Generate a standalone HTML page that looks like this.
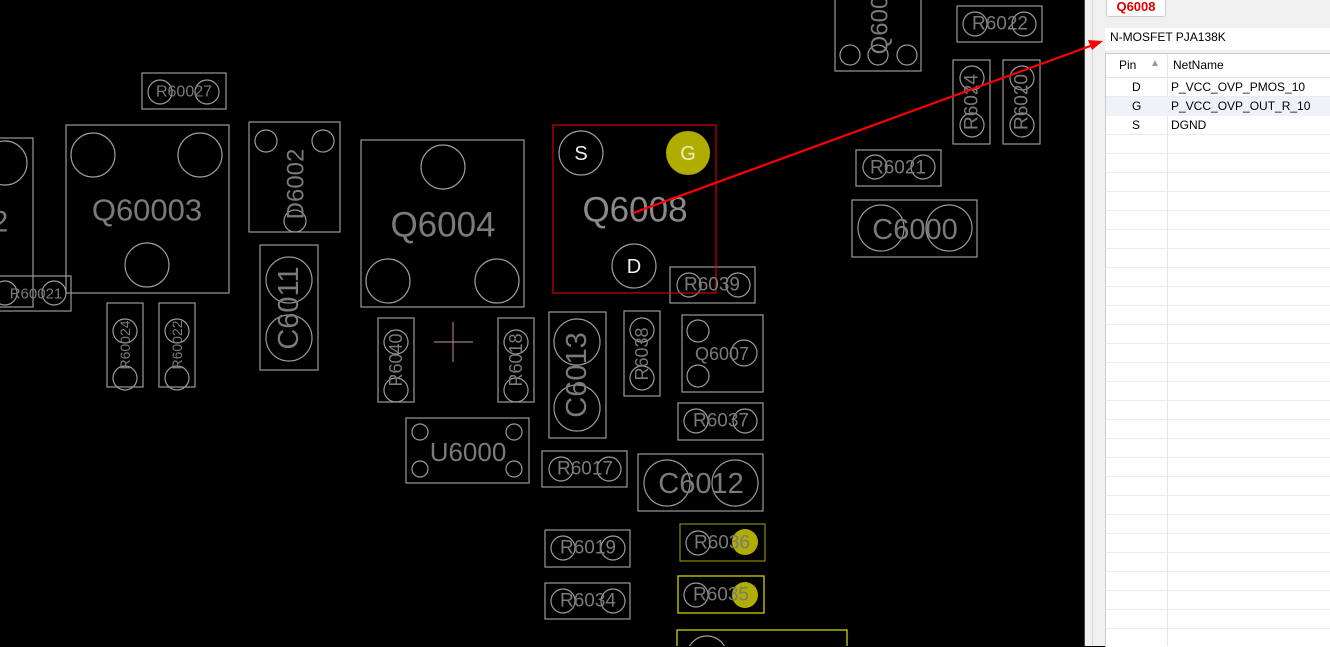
<!DOCTYPE html>
<html><head><meta charset="utf-8"><style>
html,body{margin:0;padding:0;width:1330px;height:646px;overflow:hidden;background:#000;font-family:"Liberation Sans",sans-serif}
svg{position:absolute;left:0;top:0}
.p{position:absolute}
</style></head><body>
<svg width="1330" height="646" viewBox="0 0 1330 646">
<g fill="none" stroke="#9a9a9a" stroke-width="1.2">
<rect x="-5" y="138" width="38" height="169"/><circle cx="5" cy="163" r="22"/>
<rect x="-5" y="276" width="76" height="35"/><circle cx="5" cy="293" r="12"/><circle cx="54" cy="293" r="12"/>
<rect x="142" y="73" width="84" height="36"/><circle cx="160" cy="92" r="12"/><circle cx="207" cy="92" r="12"/>
<rect x="66" y="125" width="163" height="168"/><circle cx="93" cy="155" r="22"/><circle cx="200" cy="155" r="22"/><circle cx="147" cy="265" r="22"/>
<rect x="107" y="303" width="36" height="84"/><circle cx="125" cy="331" r="12"/><circle cx="125" cy="378" r="12"/>
<rect x="159" y="303" width="36" height="84"/><circle cx="177" cy="331" r="12"/><circle cx="177" cy="378" r="12"/>
<rect x="249" y="122" width="91" height="110"/><circle cx="266" cy="141" r="11"/><circle cx="323" cy="141" r="11"/><circle cx="295" cy="221" r="11"/>
<rect x="260" y="245" width="58" height="125"/><circle cx="289" cy="280" r="23"/><circle cx="289" cy="338" r="23"/>
<rect x="361" y="140" width="163" height="167"/><circle cx="443" cy="167" r="22"/><circle cx="388" cy="281" r="22"/><circle cx="497" cy="281" r="22"/>
<rect x="378" y="318" width="36" height="84"/><circle cx="396" cy="342" r="12"/><circle cx="396" cy="390" r="12"/>
<rect x="498" y="318" width="36" height="84"/><circle cx="516" cy="342" r="12"/><circle cx="516" cy="390" r="12"/>
<rect x="406" y="418" width="123" height="65"/><circle cx="420" cy="432" r="8"/><circle cx="514" cy="432" r="8"/><circle cx="420" cy="469" r="8"/><circle cx="514" cy="469" r="8"/>
<rect x="670" y="267" width="85" height="36"/><circle cx="689" cy="285" r="12"/><circle cx="738" cy="285" r="12"/>
<rect x="549" y="312" width="57" height="126"/><circle cx="577" cy="342" r="23"/><circle cx="577" cy="408" r="23"/>
<rect x="624" y="311" width="36" height="85"/><circle cx="642" cy="330" r="12"/><circle cx="642" cy="378" r="12"/>
<rect x="682" y="315" width="81" height="77"/><circle cx="698" cy="331" r="11"/><circle cx="744" cy="353" r="13"/><circle cx="698" cy="376" r="11"/>
<rect x="678" y="403" width="85" height="37"/><circle cx="696" cy="421" r="12"/><circle cx="745" cy="421" r="12"/>
<rect x="542" y="451" width="85" height="36"/><circle cx="561" cy="469" r="12"/><circle cx="609" cy="469" r="12"/>
<rect x="638" y="454" width="125" height="57"/><circle cx="667" cy="483" r="23"/><circle cx="735" cy="483" r="23"/>
<rect x="545" y="530" width="85" height="37"/><circle cx="563" cy="548" r="12"/><circle cx="613" cy="548" r="12"/>
<rect x="545" y="583" width="85" height="36"/><circle cx="563" cy="601" r="12"/><circle cx="613" cy="601" r="12"/>
<rect x="835" y="-2" width="86" height="73"/><circle cx="850" cy="55" r="10"/><circle cx="878" cy="55" r="10"/><circle cx="907" cy="55" r="10"/>
<rect x="957" y="6" width="85" height="36"/><circle cx="975" cy="24" r="12"/><circle cx="1024" cy="24" r="12"/>
<rect x="953" y="60" width="37" height="84"/><circle cx="972" cy="78" r="12"/><circle cx="972" cy="125" r="12"/>
<rect x="1003" y="60" width="37" height="84"/><circle cx="1022" cy="78" r="12"/><circle cx="1022" cy="125" r="12"/>
<rect x="856" y="150" width="85" height="36"/><circle cx="875" cy="167" r="12"/><circle cx="923" cy="167" r="12"/>
<rect x="852" y="200" width="125" height="57"/><circle cx="881" cy="228" r="23"/><circle cx="949" cy="228" r="23"/>
<circle cx="581" cy="153" r="22"/><circle cx="634" cy="266" r="22"/>
<circle cx="698" cy="543" r="12"/><circle cx="696" cy="595" r="12"/><circle cx="707" cy="656" r="20"/>
</g>
<rect x="680" y="524" width="85" height="37" fill="none" stroke="#8a8a00" stroke-width="1.2"/>
<rect x="678" y="576" width="86" height="37" fill="none" stroke="#e0e000" stroke-width="1.2"/>
<rect x="677" y="630" width="170" height="30" fill="none" stroke="#e0e000" stroke-width="1.2"/>
<circle cx="745" cy="542" r="13" fill="#b0ad00"/><circle cx="745" cy="595" r="13" fill="#b0ad00"/>
<rect x="553" y="125" width="163" height="168" fill="none" stroke="#d00000" stroke-width="1.2"/>
<circle cx="688" cy="153" r="22" fill="#b0ad00"/>
<g stroke="#a07880" stroke-width="1.2"><line x1="434" y1="342" x2="473" y2="342"/><line x1="453" y1="322" x2="453" y2="362"/></g>
<g fill="#7a7a7a" text-anchor="middle" dominant-baseline="central" font-family="Liberation Sans, sans-serif">
<text x="0" y="222" font-size="30">2</text>
<text x="36" y="294" font-size="15">R60021</text>
<text x="184" y="92" font-size="16">R60027</text>
<text x="147" y="210" font-size="31">Q60003</text>
<text x="443" y="225" font-size="35">Q6004</text>
<text x="468" y="452" font-size="26">U6000</text>
<text x="635" y="210" font-size="35" fill="#8a8a8a">Q6008</text>
<text x="712" y="285" font-size="19">R6039</text>
<text x="722" y="354" font-size="18">Q6007</text>
<text x="721" y="421" font-size="19">R6037</text>
<text x="585" y="469" font-size="19">R6017</text>
<text x="701" y="484" font-size="29">C6012</text>
<text x="588" y="548" font-size="19">R6019</text>
<text x="588" y="601" font-size="19">R6034</text>
<text x="722" y="543" font-size="19">R6036</text>
<text x="721" y="595" font-size="19">R6035</text>
<text x="1000" y="24" font-size="19">R6022</text>
<text x="898" y="168" font-size="19">R6021</text>
<text x="915" y="230" font-size="29">C6000</text>
<text transform="translate(125,345) rotate(-90)" font-size="14">R60024</text>
<text transform="translate(177,345) rotate(-90)" font-size="14">R60022</text>
<text transform="translate(296,184) rotate(-90)" font-size="24">D6002</text>
<text transform="translate(289,308) rotate(-90)" font-size="29">C6011</text>
<text transform="translate(396,360) rotate(-90)" font-size="18">R6040</text>
<text transform="translate(516,360) rotate(-90)" font-size="18">R6018</text>
<text transform="translate(577,375) rotate(-90)" font-size="29">C6013</text>
<text transform="translate(642,354) rotate(-90)" font-size="18">R6038</text>
<text transform="translate(880,25) rotate(-90)" font-size="24">Q600</text>
<text transform="translate(972,102) rotate(-90)" font-size="19">R6024</text>
<text transform="translate(1022,102) rotate(-90)" font-size="19">R6020</text>
</g>
<g text-anchor="middle" dominant-baseline="central" font-size="20" fill="#f0f0f0">
<text x="581" y="154">S</text><text x="688" y="154" fill="#eeeec0">G</text><text x="634" y="267">D</text>
</g>
</svg>
<div class="p" style="left:1084px;top:0;width:246px;height:646px;background:#f0f0f0;border-left:1px solid #444"></div>
<div class="p" style="left:1092px;top:0;width:1px;height:646px;background:#d8d8d8"></div>
<div class="p" style="left:1106px;top:-4px;width:58px;height:19px;background:#fff;border:1px solid #ccc;border-radius:3px;color:#e00000;font-weight:bold;font-size:13px;text-align:center;line-height:19px">Q6008</div>
<div class="p" style="left:1105px;top:28px;width:225px;height:22px;background:#fff;font-size:12px;line-height:18px;padding-left:5px;box-sizing:border-box">N-MOSFET PJA138K</div>
<div class="p" style="left:1105px;top:53px;width:225px;height:593px;background:#fff;border-left:1px solid #ccc;border-top:1px solid #ccc;
background-image:repeating-linear-gradient(to bottom,transparent 0,transparent 18px,#ececec 18px,#ececec 19px);background-position:0 24px"></div>
<div class="p" style="left:1106px;top:54px;width:224px;height:23px;background:#fff;border-bottom:1px solid #e0e0e0;font-size:12px;line-height:22px">
<span class="p" style="left:13px">Pin</span><span class="p" style="left:44px;top:-1px;color:#8a9aaa;font-size:10px">▲</span><span class="p" style="left:67px">NetName</span></div>
<div class="p" style="left:1167px;top:54px;width:1px;height:592px;background:#e6e6e6"></div>
<div class="p" style="left:1106px;top:97px;width:224px;height:19px;background:#eef3fa"></div>
<div class="p" style="left:1106px;top:78px;width:224px;font-size:12px;line-height:19px">
<div style="position:relative;height:19px"><span class="p" style="left:26px">D</span><span class="p" style="left:65px">P_VCC_OVP_PMOS_10</span></div>
<div style="position:relative;height:19px"><span class="p" style="left:26px">G</span><span class="p" style="left:65px">P_VCC_OVP_OUT_R_10</span></div>
<div style="position:relative;height:19px"><span class="p" style="left:26px">S</span><span class="p" style="left:65px">DGND</span></div>
</div>
<svg width="1330" height="646" viewBox="0 0 1330 646" style="z-index:5">
<line x1="633" y1="213" x2="1093" y2="45" stroke="#ff0000" stroke-width="2.2"/>
<polygon points="1103,41 1088,40 1092,50" fill="#ff0000"/>
</svg>
</body></html>
